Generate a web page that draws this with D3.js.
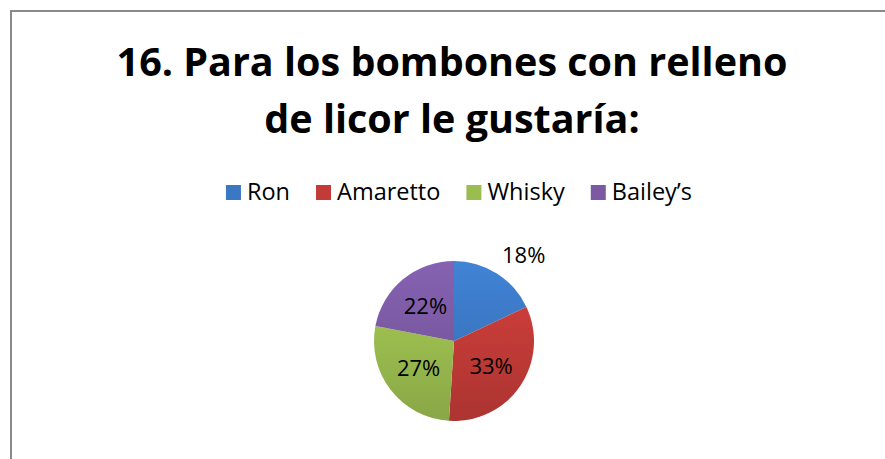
<!DOCTYPE html>
<html>
<head>
<meta charset="utf-8">
<script src="https://cdn.jsdelivr.net/npm/d3@7"></script>
<style>
  html, body { margin: 0; padding: 0; background: #fff; }
  svg { display: block; }
  text { font-family: "Open Sans", "Liberation Sans", sans-serif; }
</style>
</head>
<body>
<svg id="chart" width="885" height="459"></svg>
<script>
// Survey answers: preferred liqueur filling for chocolates
const categories = ["Ron", "Amaretto", "Whisky", "Bailey’s"];
const shares = [18, 33, 27, 22];
const labelPlacement = ["outside", "inside", "inside", "inside"];
const titleLines = ["16. Para los bombones con relleno", "de licor le gustaría:"];
const sliceColors = ["#3b78c4", "#c33b37", "#9bbd4f", "#7b5aa3"];

const W = 885, H = 459;
const svg = d3.select("#chart");

// chart frame (continues past the right and bottom edges)
svg.append("rect")
  .attr("x", 11).attr("y", 11)
  .attr("width", W + 20).attr("height", H + 20)
  .attr("fill", "#fff")
  .attr("stroke", "#8a8a8a")
  .attr("stroke-width", 2);

// title
svg.append("g").selectAll("text")
  .data(titleLines)
  .join("text")
  .attr("x", 452)
  .attr("y", (d, i) => 76 + i * 57)
  .attr("text-anchor", "middle")
  .attr("font-weight", "bold")
  .attr("font-size", 39.5)
  .attr("fill", "#000")
  .text(d => d);

// legend
const legend = svg.append("g");
const legendFont = 23.5, sw = 15, gapText = 6, gapItem = 26;
const items = legend.selectAll("g")
  .data(categories)
  .join("g");
items.append("rect")
  .attr("width", sw).attr("height", sw)
  .attr("y", 185)
  .attr("fill", (d, i) => sliceColors[i]);
items.append("text")
  .attr("x", sw + gapText)
  .attr("y", 200)
  .attr("font-size", legendFont)
  .attr("fill", "#000")
  .text(d => d);
let xCursor = 0;
const offsets = [];
items.each(function () {
  offsets.push(xCursor);
  const tw = d3.select(this).select("text").node().getComputedTextLength();
  xCursor += sw + gapText + tw + gapItem;
});
const legendWidth = xCursor - gapItem;
const legendStart = 459 - legendWidth / 2;
items.attr("transform", (d, i) => `translate(${legendStart + offsets[i]},0)`);

// pie
const cx = 454, cy = 341, R = 80;
const defs = svg.append("defs");
sliceColors.forEach((c, i) => {
  const g = defs.append("linearGradient")
    .attr("id", "grad" + i)
    .attr("gradientUnits", "userSpaceOnUse")
    .attr("x1", 0).attr("y1", -R).attr("x2", 0).attr("y2", R);
  g.append("stop").attr("offset", "0%").attr("stop-color", d3.color(c).brighter(0.25));
  g.append("stop").attr("offset", "100%").attr("stop-color", d3.color(c).darker(0.35));
});

const pie = d3.pie().sort(null).value(d => d);
const arcs = pie(shares);
const arc = d3.arc().innerRadius(0).outerRadius(R);
const insideArc = d3.arc().innerRadius(R * 0.56).outerRadius(R * 0.56);
const outsideArc = d3.arc().innerRadius(R * 1.12).outerRadius(R * 1.12);

const pieG = svg.append("g").attr("transform", `translate(${cx},${cy})`);
pieG.selectAll("path")
  .data(arcs)
  .join("path")
  .attr("d", arc)
  .attr("fill", (d, i) => `url(#grad${i})`);

// inside labels are centred on the slice; outside labels start just beyond the rim
pieG.selectAll("text")
  .data(arcs)
  .join("text")
  .attr("transform", (d, i) => {
    const p = (labelPlacement[i] === "outside" ? outsideArc : insideArc).centroid(d);
    return `translate(${p[0]},${p[1]})`;
  })
  .attr("text-anchor", (d, i) => labelPlacement[i] === "outside" ? "start" : "middle")
  .attr("dy", (d, i) => labelPlacement[i] === "outside" ? "-0.1em" : "0.35em")
  .attr("font-size", 22)
  .attr("fill", "#000")
  .text(d => d.data + "%");
</script>
</body>
</html>
